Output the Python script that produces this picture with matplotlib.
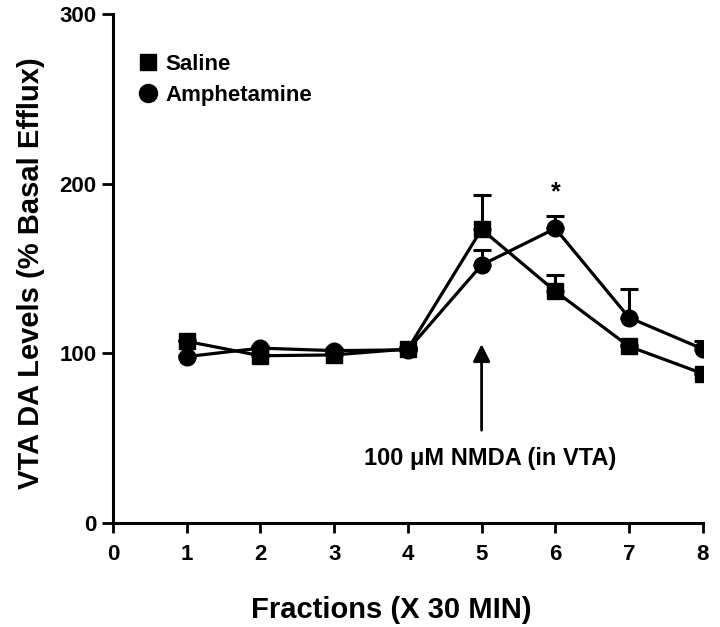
import matplotlib
matplotlib.use("Agg")
import matplotlib.pyplot as plt
from matplotlib.lines import Line2D

plt.rcParams['font.family'] = ['Liberation Sans', 'DejaVu Sans']
plt.rcParams['font.weight'] = 'bold'

fractions = [1, 2, 3, 4, 5, 6, 7, 8]
saline = [107, 98.5, 99, 102.5, 173, 136.5, 104, 88]
saline_err = [1, 1, 1, 1, 20.5, 9.5, 1, 1]
amph = [98, 103, 101.5, 102, 152, 173.5, 121, 102.5]
amph_err = [1, 1, 1, 1, 9, 7.5, 17, 4.5]
x_ticks = [0, 1, 2, 3, 4, 5, 6, 7, 8]
y_ticks = [0, 100, 200, 300]

fig = plt.figure(figsize=(7.2, 6.27), dpi=100)
ax = fig.add_axes([0.157, 0.166, 0.819, 0.812])

lw = 2.3
ms = 11
cap = 6.5

ax.errorbar(fractions, amph, yerr=[[0]*len(amph), amph_err], fmt='-o', color='black',
            lw=lw, ms=ms + 1, capsize=cap, capthick=2.2, elinewidth=2.2, zorder=3)
ax.errorbar(fractions, saline, yerr=[[0]*len(saline), saline_err], fmt='-s', color='black',
            lw=lw, ms=ms, capsize=cap, capthick=2.2, elinewidth=2.2, zorder=4)

# significance marker
ax.text(6, 195, '*', ha='center', va='center', fontsize=18, fontweight='bold')

# NMDA arrow annotation
ax.annotate('', xy=(5, 107), xytext=(5, 53),
            arrowprops=dict(arrowstyle='-|>', lw=2, color='black', mutation_scale=26))
ax.text(5.12, 38, '100 \u03bcM NMDA (in VTA)', ha='center', va='center',
        fontsize=17, fontweight='bold')

ax.set_xlim(0, 8)
ax.set_ylim(0, 300)
ax.set_xticks(x_ticks)
ax.set_yticks(y_ticks)
ax.tick_params(axis='both', labelsize=16, width=2, direction='out')
ax.tick_params(axis='y', length=8, pad=4)
ax.tick_params(axis='x', length=7, pad=8)
for lbl in ax.get_xticklabels() + ax.get_yticklabels():
    lbl.set_fontweight('bold')

for s in ['top', 'right']:
    ax.spines[s].set_visible(False)
for s in ['left', 'bottom']:
    ax.spines[s].set_linewidth(2.2)
ax.spines['left'].set_bounds(0, 300)

ax.set_xlabel('Fractions (X 30 MIN)', fontsize=21, fontweight='bold')
ax.set_ylabel('VTA DA Levels (% Basal Efflux)', fontsize=21, fontweight='bold')
ax.xaxis.set_label_coords(0.472, -0.143)
ax.yaxis.set_label_coords(-0.115, 0.49)

handles = [Line2D([], [], marker='s', ls='none', color='black', ms=12),
           Line2D([], [], marker='o', ls='none', color='black', ms=13)]
ax.legend(handles, ['Saline', 'Amphetamine'], loc='upper left',
          bbox_to_anchor=(0.01, 0.96), frameon=False, handlelength=0.8,
          handletextpad=0.4, labelspacing=0.45,
          prop={'size': 16, 'weight': 'bold'})

fig.savefig('out.png', dpi=100)
